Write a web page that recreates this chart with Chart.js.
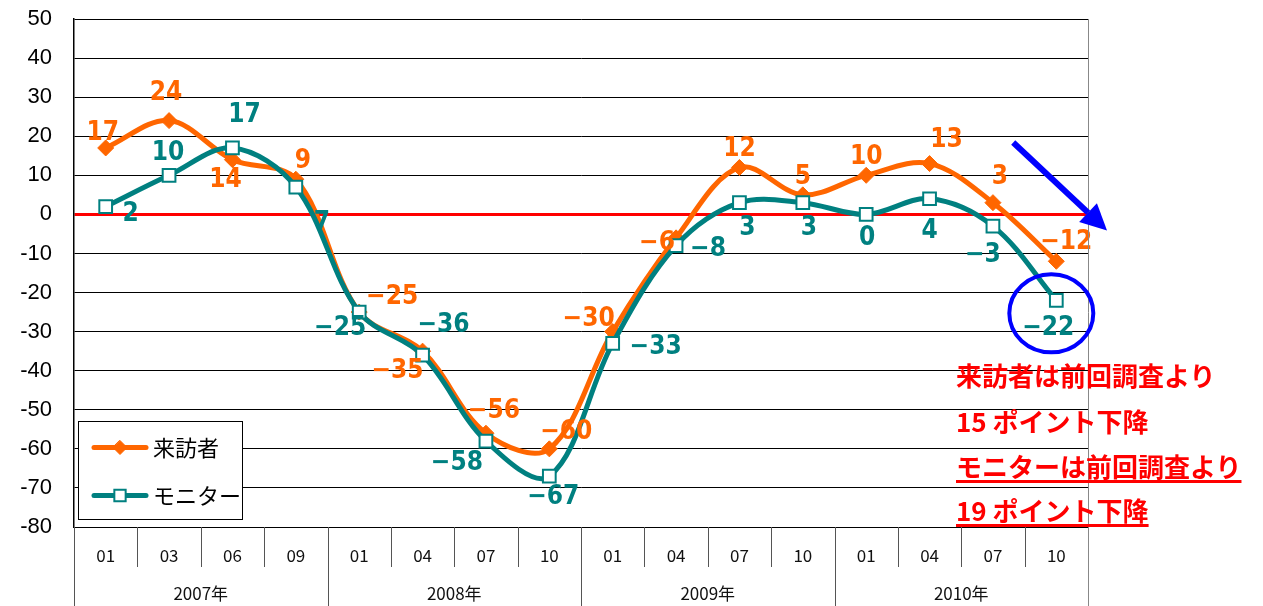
<!DOCTYPE html>
<html>
<head>
<meta charset="utf-8">
<script src="https://cdn.jsdelivr.net/npm/chart.js@4.4.0/dist/chart.umd.min.js"></script>
<style>
    html, body { margin: 0; padding: 0; background: #fff; }
    #wrap { position: relative; width: 1263px; height: 606px; }
    canvas { position: absolute; left: 0; top: 0; }
    .note {
        position: absolute; left: 956px; white-space: nowrap;
        font: bold 26px "Noto Sans CJK JP"; line-height: 26px; color: #ff0000;
    }
    .ul { text-decoration: underline; text-decoration-thickness: 3px; text-underline-offset: 3px; }
</style>
</head>
<body>
<div id="wrap">
    <canvas id="chart" width="1263" height="606"></canvas>
    <div class="note" style="top:362px">来訪者は前回調査より</div>
    <div class="note" style="top:408px">15 ポイント下降</div>
    <div class="note ul" style="top:453px">モニターは前回調査より</div>
    <div class="note ul" style="top:497px">19 ポイント下降</div>
</div>
<script>
// Data
const months = ['01', '03', '06', '09', '01', '04', '07', '10', '01', '04', '07', '10', '01', '04', '07', '10'];
const years = ['2007年', '2008年', '2009年', '2010年'];
const monthsPerYear = [4, 4, 4, 4];
const visitors = [17, 24, 14, 9, -25, -35, -56, -60, -30, -6, 12, 5, 10, 13, 3, -12];
const monitors = [2, 10, 17, 7, -25, -36, -58, -67, -33, -8, 3, 3, 0, 4, -3, -22];
const yMin = -80, yMax = 50, yStep = 10;

const ORANGE = '#ff6600';
const TEAL = '#008080';

// where each value label sits relative to its point (px)
const visitorLabelOffsets = [[-3, -15], [-3, -27], [-7, 21], [7, -18], [33, -15], [-25, 20], [8, -22], [17, -17],
    [-24, -12], [-19, 5], [0, -18], [0, -18], [0, -18], [17, -23], [7, -25], [10, -19]];
const monitorLabelOffsets = [[25, 8], [-1, -22], [12, -33], [26, 36], [-19, 16], [21, -30], [-29, 22], [4, 21],
    [43, 4], [32, 4], [8, 26], [6, 26], [1, 24], [0, 32], [-10, 29], [-8, 28]];

const fmt = v => String(v).replace('-', '−');

const decor = {
    id: 'decor',
    afterDatasetsDraw(chart) {
        const ctx = chart.ctx;
        const xs = chart.scales.x, ys = chart.scales.y;
        ctx.save();
        ctx.font = 'bold 26px "Liberation Sans Narrow", "DejaVu Sans Condensed"';
        ctx.textAlign = 'center';
        ctx.textBaseline = 'middle';
        [[visitors, visitorLabelOffsets, ORANGE], [monitors, monitorLabelOffsets, TEAL]].forEach(([vals, offs, col]) => {
            ctx.fillStyle = col;
            vals.forEach((v, i) => {
                ctx.fillText(fmt(v), xs.getPixelForValue(i) + offs[i][0], ys.getPixelForValue(v) + offs[i][1]);
            });
        });
        ctx.restore();
    },
    afterDraw(chart) {
        const ctx = chart.ctx;
        const xs = chart.scales.x, ys = chart.scales.y, ca = chart.chartArea;
        const step = xs.getPixelForValue(1) - xs.getPixelForValue(0);
        const H = chart.height;
        ctx.save();

        // category separators and year separators
        const yearEdges = [0];
        monthsPerYear.forEach(n => yearEdges.push(yearEdges[yearEdges.length - 1] + n));
        for (let i = 0; i <= months.length; i++) {
            const bx = Math.round(xs.getPixelForValue(0) - step / 2 + i * step) + 0.5;
            const isYear = yearEdges.includes(i);
            ctx.strokeStyle = i === months.length ? '#888' : '#555';
            ctx.lineWidth = 1;
            ctx.beginPath();
            ctx.moveTo(bx, i === months.length ? ca.top : ca.bottom);
            ctx.lineTo(bx, isYear ? H : ca.bottom + 40);
            ctx.stroke();
        }

        // month labels
        ctx.fillStyle = '#111';
        ctx.textAlign = 'center';
        ctx.textBaseline = 'middle';
        ctx.font = '17px "Noto Sans CJK JP"';
        months.forEach((m, i) => ctx.fillText(m, xs.getPixelForValue(i), ca.bottom + 29));
        // year labels
        years.forEach((y, k) => {
            const a = xs.getPixelForValue(yearEdges[k]) - step / 2;
            const b = xs.getPixelForValue(yearEdges[k + 1] - 1) + step / 2;
            ctx.fillText(y, (a + b) / 2, ca.bottom + 67);
        });

        // legend box
        const lx = 78.5, ly = 421.5;
        ctx.fillStyle = '#fff';
        ctx.fillRect(lx, ly, 164, 98);
        ctx.strokeStyle = '#000';
        ctx.lineWidth = 1;
        ctx.strokeRect(lx, ly, 164, 98);
        chart.data.datasets.slice().sort((a, b) => b.order - a.order).forEach((ds, k) => {
            const yy = ly + 26 + k * 48;
            ctx.strokeStyle = ds.borderColor;
            ctx.lineWidth = 5;
            ctx.lineCap = 'round';
            ctx.beginPath();
            ctx.moveTo(94, yy);
            ctx.lineTo(146, yy);
            ctx.stroke();
            ctx.fillStyle = ds.pointBackgroundColor;
            ctx.strokeStyle = ds.pointBorderColor;
            ctx.lineWidth = ds.pointBorderWidth;
            ctx.beginPath();
            const r = ds.pointRadius - 1;
            if (ds.pointStyle === 'rect') {
                const s = r * Math.SQRT1_2;
                ctx.rect(120 - s, yy - s, 2 * s, 2 * s);
            } else {
                ctx.moveTo(120, yy - r); ctx.lineTo(120 + r, yy); ctx.lineTo(120, yy + r); ctx.lineTo(120 - r, yy);
                ctx.closePath();
            }
            ctx.fill();
            ctx.stroke();
            ctx.fillStyle = '#000';
            ctx.textAlign = 'left';
            ctx.font = '22px "Noto Sans CJK JP"';
            ctx.fillText(ds.label, 153, yy);
        });

        // blue trend arrow and circle round the last monitor value
        const last = monitors.length - 1;
        ctx.strokeStyle = '#0000ff';
        ctx.fillStyle = '#0000ff';
        ctx.lineCap = 'butt';
        ctx.lineWidth = 4;
        ctx.beginPath();
        ctx.ellipse(xs.getPixelForValue(last) - 5, ys.getPixelForValue(monitors[last]) + 13, 42, 39, 0, 0, Math.PI * 2);
        ctx.stroke();

        const x0 = xs.getPixelForValue(last - 0.68), y0 = ys.getPixelForValue(18.4);
        const x1 = xs.getPixelForValue(last + 0.8), y1 = ys.getPixelForValue(-4.1);
        const ang = Math.atan2(y1 - y0, x1 - x0);
        const hl = 26, hw = 13;
        const bx = x1 - hl * Math.cos(ang), by = y1 - hl * Math.sin(ang);
        ctx.lineWidth = 6;
        ctx.beginPath();
        ctx.moveTo(x0, y0);
        ctx.lineTo(bx, by);
        ctx.stroke();
        ctx.beginPath();
        ctx.moveTo(x1, y1);
        ctx.lineTo(bx + hw * Math.sin(ang), by - hw * Math.cos(ang));
        ctx.lineTo(bx - hw * Math.sin(ang), by + hw * Math.cos(ang));
        ctx.closePath();
        ctx.fill();

        ctx.restore();
    }
};

new Chart(document.getElementById('chart').getContext('2d'), {
    type: 'line',
    data: {
        labels: months,
        datasets: [
            {
                label: 'モニター',
                data: monitors,
                order: 0,
                borderColor: TEAL,
                borderWidth: 5,
                tension: 0.35,
                pointStyle: 'rect',
                pointRadius: 9,
                pointBackgroundColor: '#fff',
                pointBorderColor: TEAL,
                pointBorderWidth: 2
            },
            {
                label: '来訪者',
                data: visitors,
                order: 1,
                borderColor: ORANGE,
                borderWidth: 5,
                tension: 0.35,
                pointStyle: 'rectRot',
                pointRadius: 8,
                pointBackgroundColor: ORANGE,
                pointBorderColor: ORANGE,
                pointBorderWidth: 1
            }
        ]
    },
    options: {
        responsive: false,
        animation: false,
        layout: { padding: { top: 19, right: 175, bottom: 0, left: 0 } },
        plugins: {
            legend: { display: false },
            tooltip: { enabled: false }
        },
        scales: {
            x: {
                offset: true,
                grid: { display: false },
                ticks: { display: false },
                border: { display: false },
                afterFit(s) { s.height = 79; }
            },
            y: {
                min: yMin,
                max: yMax,
                ticks: {
                    stepSize: yStep,
                    color: '#000',
                    padding: 0,
                    font: { family: 'Liberation Sans', size: 22 }
                },
                grid: {
                    drawTicks: true,
                    tickLength: 22,
                    tickColor: 'rgba(0,0,0,0)',
                    color: c => c.tick && c.tick.value === 0 ? '#ff0000' : '#000',
                    lineWidth: c => c.tick && c.tick.value === 0 ? 3 : 1
                },
                border: { color: '#000', width: 1.5 },
                afterFit(s) { s.width = 74; }
            }
        }
    },
    plugins: [decor]
});
</script>
</body>
</html>
